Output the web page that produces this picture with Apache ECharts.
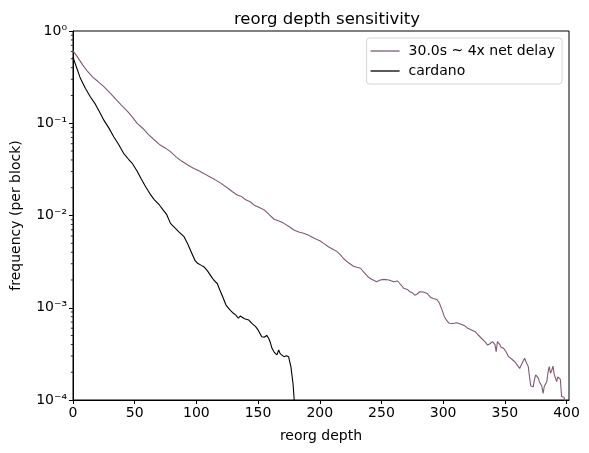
<!DOCTYPE html>
<html>
<head>
<meta charset="utf-8">
<script src="https://cdn.jsdelivr.net/npm/echarts@6/dist/echarts.min.js"></script>
<style>html,body{margin:0;padding:0;background:#fff;}#c{width:589px;height:453px;}</style>
</head>
<body>
<div id="c"></div>
<script>
const delayDepth = [0,1,3,5,8,12,16,20,25,30,35,39,44,48,52,57,61,66,70,75,79,84,88,93,98,102,106,110,115,120,125,129,133,136,140,144,147,151,155,159,163,167,171,175,179,183,187,190,192,196,200,204,207,211,214,217,219,223,227,230,233,236,239,242,246,249,252,256,260,263,265,268,271,273,275,277,279,281,284,287,290,292,295,297,299,301,303,305,308,311,314,316,318,320,323,326,328,331,334,336,338,340,342,343,344,346,347,349,351,353,354,356,358,360,362,364,366,367,369,370,371,373,374,375,377,378,380,381,382,384,385,386,387,388,389,390,392,393,395,396,398,399];
const delayFreq = [0.610,0.597,0.537,0.490,0.427,0.362,0.316,0.285,0.249,0.214,0.180,0.158,0.135,0.117,0.0998,0.0871,0.0759,0.0658,0.0589,0.0537,0.0492,0.0427,0.0389,0.0352,0.0324,0.0305,0.0286,0.0266,0.0245,0.0223,0.0200,0.0182,0.0167,0.0162,0.0148,0.0140,0.0129,0.0122,0.0115,0.0102,0.00910,0.00871,0.00822,0.00759,0.00697,0.00661,0.00641,0.00617,0.00600,0.00562,0.00533,0.00490,0.00459,0.00427,0.00406,0.00372,0.00344,0.00309,0.00284,0.00275,0.00268,0.00240,0.00217,0.00204,0.00191,0.00200,0.00203,0.00200,0.00191,0.00195,0.00182,0.00163,0.00158,0.00149,0.00145,0.00137,0.00141,0.00149,0.00148,0.00143,0.00129,0.00126,0.00123,0.00112,0.000955,0.000800,0.000724,0.000678,0.000676,0.000689,0.000668,0.000650,0.000631,0.000598,0.000575,0.000550,0.000513,0.000467,0.000427,0.000394,0.000407,0.000429,0.000398,0.000333,0.000429,0.000398,0.000372,0.000363,0.000333,0.000295,0.000283,0.000275,0.000260,0.000240,0.000220,0.000251,0.000283,0.000263,0.000230,0.000178,0.000142,0.000139,0.000166,0.000187,0.000174,0.000158,0.000141,0.000118,0.000141,0.000158,0.000200,0.000230,0.000195,0.000209,0.000233,0.000191,0.000158,0.000178,0.000167,0.000109,0.000107,0.0000891];
const cardanoDepth = [0,1,3,6,10,14,18,22,25,29,33,37,41,45,48,52,55,59,63,66,70,73,76,79,83,86,90,93,96,99,101,104,106,109,112,114,117,119,121,124,127,130,132,134,135.5,137,139,140.5,142.5,145,148,150,153,155,157,158.6,160,161.3,163,165.3,166.7,168,169.4,171,172,173,174.7,176.6,178.3,179.3,180];
const cardanoFreq = [0.519,0.506,0.398,0.307,0.240,0.194,0.162,0.129,0.108,0.0891,0.0714,0.0589,0.0472,0.0407,0.0368,0.0302,0.0253,0.0204,0.0167,0.0148,0.0130,0.0115,0.0102,0.00822,0.00724,0.00661,0.00589,0.00490,0.00398,0.00324,0.00303,0.00288,0.00279,0.00251,0.00219,0.00200,0.00182,0.00156,0.00135,0.00107,0.000955,0.000871,0.000832,0.000769,0.000813,0.000800,0.000759,0.000776,0.000736,0.000676,0.000624,0.000575,0.000485,0.000479,0.000501,0.000467,0.000417,0.000363,0.000331,0.000308,0.000348,0.000316,0.000308,0.000295,0.000283,0.000302,0.000295,0.000230,0.000151,0.000100,0.0000501];
const minorYTicks = [2e-4,3e-4,4e-4,5e-4,6e-4,7e-4,8e-4,9e-4,2e-3,3e-3,4e-3,5e-3,6e-3,7e-3,8e-3,9e-3,2e-2,3e-2,4e-2,5e-2,6e-2,7e-2,8e-2,9e-2,2e-1,3e-1,4e-1,5e-1,6e-1,7e-1,8e-1,9e-1];
const seriesNames = ['30.0s ~ 4x net delay', 'cardano'];

const sup = {'0':'⁰','1':'¹','2':'²','3':'³','4':'⁴','5':'⁵','6':'⁶','7':'⁷','8':'⁸','9':'⁹','-':'⁻'};
function fmtLog(v){
  const e = Math.round(Math.log10(v));
  return '10' + String(e).split('').map(c => sup[c]).join('');
}
const font = 'DejaVu Sans';
const chart = echarts.init(document.getElementById('c'), null, {renderer:'canvas'});
chart.setOption({
  animation: false,
  backgroundColor: '#fff',
  textStyle: {fontFamily: font},
  title: {text: 'reorg depth sensitivity', left: 322, top: 6, textAlign: 'center',
    textStyle: {fontFamily: font, fontSize: 16.5, fontWeight: 'normal', color: '#000'}},
  grid: {left: 73, right: 20, top: 31, bottom: 53, containLabel: false, outerBoundsMode: 'none',
    show: true, borderColor: '#000', borderWidth: 1, backgroundColor: 'transparent'},
  legend: {
    data: seriesNames, orient: 'vertical', right: 27, top: 38,
    icon: 'rect', itemWidth: 29, itemHeight: 1.3, itemGap: 6,
    padding: [6, 7, 6, 4],
    borderColor: '#d4d4d4', borderWidth: 1, borderRadius: 3, backgroundColor: 'rgba(255,255,255,0.8)',
    textStyle: {fontFamily: font, fontSize: 14, color: '#000', padding: [0,0,0,4]}
  },
  xAxis: {
    type: 'value', min: 0, max: 402, interval: 50,
    name: 'reorg depth', nameLocation: 'middle', nameGap: 29,
    nameTextStyle: {fontFamily: font, fontSize: 14, color: '#000'},
    axisLine: {show: true, lineStyle: {color: '#000', width: 1}},
    axisTick: {show: true, length: 4, lineStyle: {color: '#000', width: 1}},
    axisLabel: {fontFamily: font, fontSize: 14, color: '#000', margin: 6, showMaxLabel: false},
    splitLine: {show: false}
  },
  yAxis: {
    type: 'log', logBase: 10, min: 1e-4, max: 1, interval: 1,
    name: 'frequency (per block)', nameLocation: 'middle', nameGap: 50, nameRotate: 90,
    nameTextStyle: {fontFamily: font, fontSize: 14, color: '#000'},
    axisLine: {show: true, lineStyle: {color: '#000', width: 1}},
    axisTick: {show: true, length: 4, lineStyle: {color: '#000', width: 1}},
    axisLabel: {fontFamily: font, fontSize: 14, color: '#000', margin: 6, formatter: fmtLog},
    splitLine: {show: false}
  },
  series: [
    {
      name: seriesNames[0], type: 'line', showSymbol: false, symbol: 'none', clip: true,
      color: '#7f5a73', lineStyle: {color: '#7f5a73', width: 1.1},
      data: delayDepth.map((d, i) => [d, delayFreq[i]]), z: 3
    },
    {
      name: seriesNames[1], type: 'line', showSymbol: false, symbol: 'none', clip: true,
      color: '#000', lineStyle: {color: '#000', width: 1.1},
      data: cardanoDepth.map((d, i) => [d, cardanoFreq[i]]), z: 4
    },
    {
      name: 'minor', type: 'custom', silent: true, clip: false,
      data: minorYTicks.map(v => [0, v]),
      encode: {x: 0, y: 1},
      renderItem: function(params, api){
        const p = api.coord([0, api.value(1)]);
        return {type: 'line', shape: {x1: p[0] - 2.2, y1: p[1], x2: p[0], y2: p[1]},
          style: {stroke: '#000', lineWidth: 0.8}};
      }
    }
  ]
});
</script>
</body>
</html>
